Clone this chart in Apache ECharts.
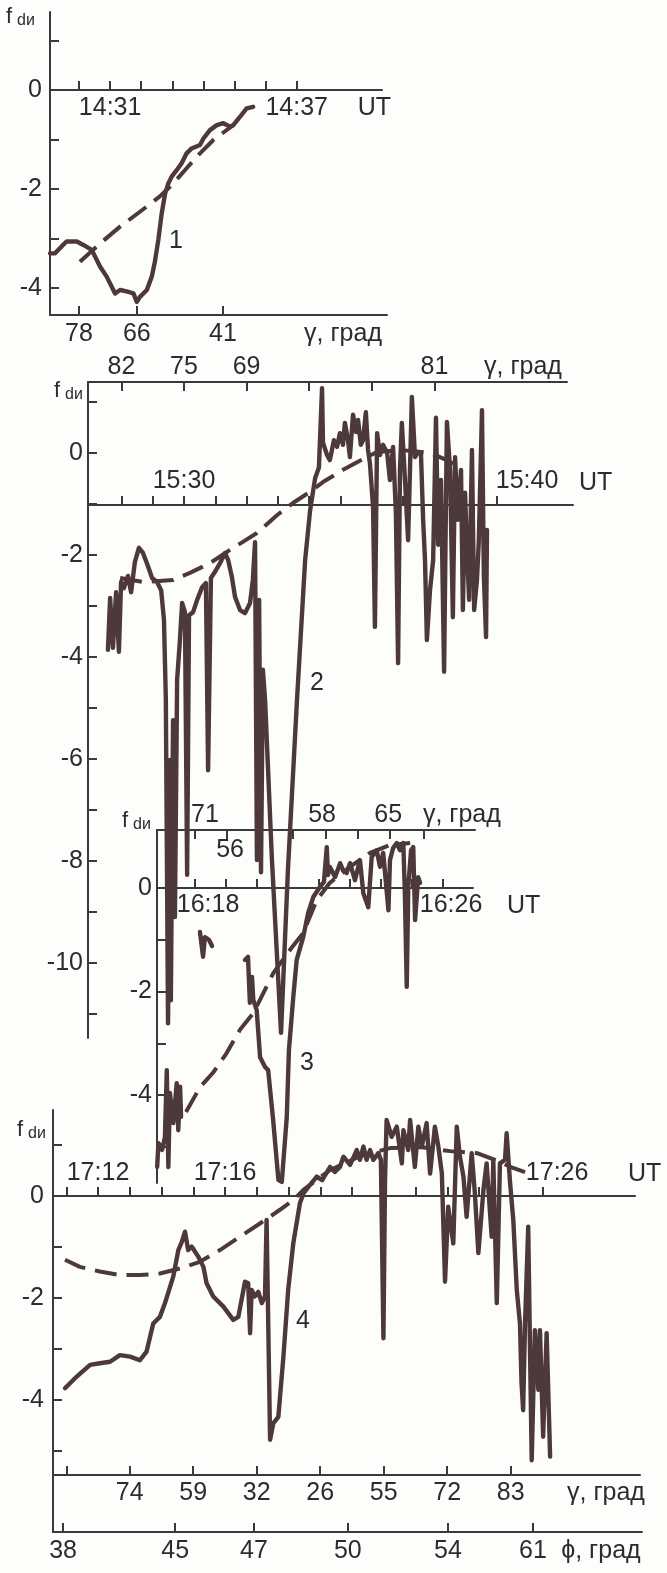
<!DOCTYPE html>
<html><head><meta charset="utf-8">
<script src="https://cdn.jsdelivr.net/npm/echarts@6/dist/echarts.min.js"></script>
<style>html,body{margin:0;padding:0;background:#fdfdfc}#c{width:667px;height:1573px}</style>
</head><body><div id="c"></div>
<script>
// ================= DATA (x = minutes after panel origin time, y = f_dи) =================
// Panel 1 : origin 14:30 UT
const p1Solid = [[-0.93,-3.30],[-0.77,-3.30],[-0.56,-3.16],[-0.40,-3.06],[-0.07,-3.06],[0.14,-3.13],[0.41,-3.23],[0.68,-3.57],[0.89,-3.77],[1.16,-4.11],[1.32,-4.04],[1.53,-4.07],[1.75,-4.11],[1.86,-4.28],[1.96,-4.18],[2.18,-4.04],[2.34,-3.77],[2.44,-3.47],[2.55,-3.03],[2.66,-2.49],[2.77,-2.09],[2.87,-1.89],[2.98,-1.75],[3.14,-1.62],[3.30,-1.48],[3.46,-1.28],[3.62,-1.18],[3.89,-1.11],[4.00,-0.98],[4.21,-0.81],[4.43,-0.71],[4.64,-0.67],[4.86,-0.74],[4.96,-0.71],[5.18,-0.54],[5.39,-0.37],[5.60,-0.34]];
const p1Dashed = [[0.03,-3.47],[0.68,-3.10],[1.32,-2.76],[1.96,-2.46],[2.60,-2.15],[3.03,-1.89],[3.46,-1.58],[3.89,-1.28],[4.32,-1.01],[4.96,-0.71]];
const p1UtTicks = [0,1,2,3,4,5,6,7];
const p1UtLabels = [[1,'14:31'],[7,'14:37'],[9.5,'UT']];
const p1GammaTicks = [0,1.86,4.63];
const p1GammaLabels = [[0,'78'],[1.86,'66'],[4.63,'41'],[8.49,'γ, град']];
const p1YTicks = [1,0,-1,-2,-3,-4];
const p1YLabels = [0,-2,-4];

// Panel 2 : origin 15:30 UT
const p2Solid = [[-2.43,-3.86],[-2.36,-2.84],[-2.27,-3.82],[-2.17,-2.73],[-2.08,-3.90],[-2.01,-2.53],[-1.92,-2.65],[-1.79,-2.41],[-1.69,-2.73],[-1.57,-2.14],[-1.44,-1.86],[-1.31,-1.96],[-1.15,-2.22],[-1.02,-2.45],[-0.86,-2.53],[-0.73,-2.69],[-0.64,-3.27],[-0.58,-4.84],[-0.51,-11.18],[-0.45,-6.02],[-0.42,-10.73],[-0.35,-5.24],[-0.29,-9.10],[-0.22,-4.45],[-0.13,-3.67],[-0.06,-2.94],[0.03,-3.12],[0.10,-8.27],[0.16,-3.18],[0.29,-3.12],[0.42,-2.88],[0.58,-2.63],[0.70,-2.55],[0.77,-6.22],[0.86,-2.45],[0.99,-2.33],[1.15,-2.16],[1.31,-1.96],[1.41,-2.10],[1.53,-2.43],[1.63,-2.82],[1.79,-3.08],[1.95,-3.14],[2.11,-2.94],[2.20,-2.49],[2.27,-1.75],[2.33,-7.98],[2.40,-2.88],[2.46,-8.22],[2.52,-4.25],[2.59,-4.84],[2.81,-7.98],[3.10,-11.37],[3.32,-8.18],[3.61,-4.84],[3.87,-2.10],[4.03,-1.12],[4.19,-0.49],[4.31,-0.29],[4.41,1.27],[4.44,0.20],[4.57,-0.04],[4.66,-0.14],[4.79,0.25],[4.89,0.12],[4.98,0.39],[5.08,0.16],[5.14,0.59],[5.24,0.25],[5.30,-0.08],[5.40,0.75],[5.50,0.41],[5.56,0.65],[5.65,0.16],[5.72,0.25],[5.81,0.80],[5.88,0.06],[5.94,-0.20],[6.04,-1.06],[6.10,-3.41],[6.17,0.39],[6.26,-0.04],[6.36,0.16],[6.49,0],[6.58,-0.53],[6.68,0.12],[6.77,-1.18],[6.84,-4.12],[6.90,-0.33],[6.96,0.59],[7.06,-0.53],[7.16,-1.71],[7.22,-0.33],[7.28,1.10],[7.38,-0.08],[7.48,0.02],[7.57,0],[7.64,-1.31],[7.70,-2.10],[7.76,-3.67],[7.86,-2.69],[7.96,-2.10],[8.05,0.69],[8.12,-1.80],[8.21,-0.53],[8.31,-4.29],[8.37,-0.92],[8.40,0.61],[8.50,-0.33],[8.59,-3.22],[8.66,-0.08],[8.75,-1.31],[8.85,-0.33],[8.91,-3.08],[8.98,-0.78],[9.04,-1.90],[9.11,-2.88],[9.20,0.06],[9.27,-3.08],[9.36,-2.49],[9.42,-1.71],[9.52,0.84],[9.58,-2.41],[9.65,-3.61],[9.68,-1.51]];
const p2Dashed = [[-2.04,-2.45],[-1.31,-2.53],[-0.35,-2.49],[0.19,-2.35],[0.83,-2.16],[1.47,-1.90],[2.33,-1.57],[2.97,-1.22],[3.48,-0.98],[4.03,-0.76],[4.44,-0.57],[5.08,-0.33],[5.53,-0.18],[6.17,0.02],[6.90,0.06],[7.86,0],[8.40,-0.14],[8.82,-0.29]];
const p2UtTicks = [-2,-1,0,1,2,3,4,5,6,7,8,9,10];
const p2UtLabels = [[0,'15:30'],[10.96,'15:40']];
const p2GammaTicks = [-2,0,2,4,6,8];
const p2GammaLabels = [[-2,'82'],[0,'75'],[2,'69'],[8,'81'],[10.83,'γ, град']];
const p2YTicks = [1,0,-1,-2,-3,-4,-5,-6,-7,-8,-9,-10,-11];
const p2YLabels = [0,-2,-4,-6,-8,-10];

// Panel 3 : origin 16:18 UT
const p3SolidA = [[-1.22,-5.39],[-1.18,-4.93],[-1.06,-5.06],[-0.97,-4.81],[-0.91,-3.52],[-0.86,-5.39],[-0.81,-3.96],[-0.70,-4.54],[-0.59,-3.77],[-0.54,-4.68],[-0.48,-3.84],[-0.45,-4.42]];
const p3SolidB = [[0.16,-0.85],[0.26,-1.33],[0.32,-0.95],[0.45,-1.00],[0.55,-1.12]];
const p3SolidC = [[1.61,-1.39],[1.71,-1.33],[1.77,-2.22],[1.84,-1.72],[1.88,-2.16],[1.99,-2.36],[2.10,-3.27],[2.26,-3.46],[2.36,-3.52],[2.52,-4.48],[2.69,-5.64],[2.80,-5.68],[2.96,-4.43],[3.03,-3.13],[3.17,-2.11],[3.28,-1.39],[3.49,-0.95],[3.65,-0.48],[3.82,-0.17],[4.03,0.02],[4.16,0.12],[4.25,0.79],[4.29,0.25],[4.35,0.41],[4.52,0.21],[4.68,0.48],[4.77,0.35],[4.89,0.29],[5.00,0.48],[5.16,0.15],[5.32,0.54],[5.43,-0.10],[5.59,-0.37],[5.70,0.60],[5.86,0.73],[5.97,0.41],[6.07,0.68],[6.24,-0.43],[6.29,0.54],[6.39,0.77],[6.51,0.87],[6.61,0.73],[6.72,0.87],[6.77,-0.10],[6.83,-1.91],[6.88,0.02],[6.97,0.73],[7.04,0.79],[7.10,-0.62],[7.20,0.21],[7.26,0.10]];
const p3Dashed = [[-0.29,-4.33],[0.16,-3.85],[0.58,-3.57],[1.02,-3.19],[1.45,-2.74],[1.88,-2.42],[2.53,-1.64],[3.06,-1.20],[3.49,-0.87],[3.93,-0.23],[4.35,0.10],[5.00,0.41],[5.65,0.68],[6.29,0.83],[6.94,0.87]];
const p3UtTicks = [0,1,2,3,4,5,6,7,8];
const p3UtLabels = [[0.42,'16:18'],[8.26,'16:26']];
const p3GammaTicks = [0,1.03,2.10,3.16,4.23,5.26,6.29,7.39];
const p3GammaLabels = [[0.32,'71'],[4.1,'58'],[6.23,'65'],[8.61,'γ, град']];
const p3GammaInnerLabels = [[1.13,'56']];
const p3YTicks = [0,-1,-2,-3,-4,-5];
const p3YLabels = [0,-2,-4];

// Panel 4 : origin 17:12 UT
const p4Solid = [[-1.04,-3.77],[-0.67,-3.54],[-0.25,-3.31],[0.06,-3.28],[0.38,-3.25],[0.69,-3.12],[1.01,-3.15],[1.32,-3.22],[1.53,-3.05],[1.74,-2.50],[1.95,-2.37],[2.11,-2.10],[2.37,-1.58],[2.53,-1.06],[2.64,-0.90],[2.69,-0.93],[2.74,-0.70],[2.84,-1.06],[2.95,-0.99],[3.16,-1.19],[3.32,-1.39],[3.42,-1.71],[3.63,-1.97],[3.95,-2.17],[4.26,-2.43],[4.42,-2.37],[4.63,-1.68],[4.73,-1.71],[4.79,-2.69],[4.84,-1.84],[4.94,-1.97],[5.05,-1.88],[5.16,-2.10],[5.26,-1.97],[5.31,-0.47],[5.35,-2.04],[5.42,-4.78],[5.52,-4.46],[5.68,-4.33],[5.84,-3.15],[5.99,-1.84],[6.15,-0.93],[6.36,-0.14],[6.47,0.05],[6.68,0.22],[6.89,0.38],[7.06,0.31],[7.31,0.57],[7.46,0.47],[7.62,0.57],[7.73,0.77],[7.94,0.61],[8.15,0.90],[8.25,0.71],[8.36,0.97],[8.46,0.71],[8.57,0.90],[8.67,0.71],[8.83,0.84],[8.91,0.71],[8.99,-2.79],[9.04,0.31],[9.09,1.49],[9.25,1.16],[9.41,1.36],[9.57,0.64],[9.62,1.29],[9.77,0.90],[9.83,1.49],[9.98,0.57],[10.09,1.36],[10.20,0.97],[10.35,1.43],[10.46,0.44],[10.61,1.36],[10.72,0.97],[10.83,0.44],[10.93,-1.68],[11.03,-0.21],[11.19,-0.93],[11.30,1.36],[11.40,0.77],[11.51,0.38],[11.61,-0.41],[11.77,0.84],[11.87,0.05],[11.98,-1.12],[12.14,0.12],[12.24,0.64],[12.40,-0.80],[12.45,0.71],[12.56,-2.10],[12.66,0.64],[12.82,0.71],[12.87,1.23],[12.98,0.25],[13.08,-0.47],[13.19,-1.84],[13.29,-2.50],[13.34,-3.67],[13.39,-4.20],[13.45,-2.50],[13.55,-0.60],[13.61,-3.15],[13.66,-5.18],[13.76,-2.63],[13.87,-3.80],[13.92,-2.63],[14.02,-4.72],[14.13,-2.69],[14.24,-5.11]];
const p4Dashed = [[-1.04,-1.25],[-0.57,-1.39],[0.06,-1.48],[0.69,-1.55],[1.32,-1.55],[1.95,-1.52],[2.58,-1.42],[3.21,-1.29],[3.84,-1.06],[4.47,-0.80],[5.10,-0.54],[5.73,-0.27],[6.15,-0.08],[6.47,0.12],[7.31,0.51],[8.25,0.78],[9.20,0.94],[10.14,0.96],[11.09,0.88],[11.94,0.84],[12.66,0.67],[13.07,0.55],[13.45,0.47]];
const p4UtTicks = [-1,0,1,2,3,4,5,6,7,8,9,10,11,12,13,14];
const p4UtLabels = [[0,'17:12'],[4,'17:16'],[14.46,'17:26']];
const p4GammaTicks = [-1,1,3,5,7,9,11,13];
const p4GammaLabels = [[1,'74'],[3,'59'],[5,'32'],[7,'26'],[9,'55'],[11,'72'],[13,'83'],[16.0,'γ, град']];
const p4PhiTicks = [-1.1,2.43,4.91,7.87,11.02,13.7];
const p4PhiLabels = [[-1.1,'38'],[2.43,'45'],[4.91,'47'],[7.87,'50'],[11.02,'54'],[13.7,'61'],[15.84,'ϕ, град']];
const p4YTicks = [1,0,-1,-2,-3,-4,-5];
const p4YLabels = [0,-2,-4];

// ================= LAYOUT / STYLE =================
const FONT = '"Liberation Sans", Arial, sans-serif';
const TXT = '#2c2c2c', AX = '#3a3a3a', INK = '#4d383b';
const FS = 25;
// pixel anchor of (x=0, y=0) and scale per unit for each panel
const S1 = {x0:79, ppm:31.1, y0:90, ppu:49.5};
const S2 = {x0:184, ppm:31.3, y0:453, ppu:51};
const S3 = {x0:195, ppm:31, y0:888, ppu:51.75};
const S4 = {x0:98, ppm:31.75, y0:1196, ppu:51};

const grids=[], xAxis=[], yAxis=[], series=[], graphic=[];
function lab(list, v){ for (const d of list) if (Math.abs(d[0]-v) < 1e-6) return d[1]; return ''; }
function txt(){ return {color:TXT, fontFamily:FONT, fontSize:FS}; }
function makeX(gi, min, max, a){
  const o = {type:'value', gridIndex:gi, min, max, position:a.pos||'bottom', show:!a.hidden,
    axisLine:{show:a.line!==false, onZero:false, lineStyle:{color:AX, width:2}},
    axisTick:{show:!!a.ticks, inside:true, length:9, lineStyle:{color:AX, width:2}},
    axisLabel:{show:!!a.labels, inside:!!a.inside, margin:a.margin==null?6:a.margin, ...txt(),
      formatter:v=>lab(a.labels||[], v)},
    splitLine:{show:false}};
  if (a.ticks) o.axisTick.customValues = a.ticks;
  if (a.labels) o.axisLabel.customValues = a.labels.map(d=>d[0]);
  if (a.name){ o.name=a.name; o.nameLocation='end'; o.nameGap=a.nameGap; o.nameTextStyle={...txt(), verticalAlign:a.nameVA, padding:a.namePad}; }
  return o;
}
function makeY(gi, min, max, a){
  const o = {type:'value', gridIndex:gi, min, max, position:'left', show:!a.hidden,
    axisLine:{show:a.line!==false, onZero:false, lineStyle:{color:AX, width:2}},
    axisTick:{show:!!a.ticks, inside:true, length:9, lineStyle:{color:AX, width:2}},
    axisLabel:{show:!!a.labels, margin:a.margin==null?6:a.margin, ...txt(), formatter:v=>String(Math.round(v))},
    splitLine:{show:false}};
  if (a.ticks) o.axisTick.customValues = a.ticks;
  if (a.labels) o.axisLabel.customValues = a.labels;
  return o;
}
function frame(S, l, r, t, b, xs, y){
  const gi = grids.length;
  grids.push({left:l, top:t, width:r-l, height:b-t});
  const xmin=(l-S.x0)/S.ppm, xmax=(r-S.x0)/S.ppm, ymax=(S.y0-t)/S.ppu, ymin=(S.y0-b)/S.ppu;
  const xi = xAxis.length;
  (xs.length ? xs : [{hidden:true}]).forEach(a => xAxis.push(makeX(gi, xmin, xmax, a)));
  const yi = yAxis.length;
  yAxis.push(makeY(gi, ymin, ymax, y || {hidden:true}));
  return {xi, yi};
}
function line(f, data, dashed){
  series.push({type:'line', xAxisIndex:f.xi, yAxisIndex:f.yi, data, symbol:'none', showSymbol:false,
    clip:false, animation:false, z:3,
    lineStyle:{color:INK, width:dashed?4:4.4, type:dashed?[22,10]:'solid', cap:dashed?'butt':'round', join:'round'}});
}
function t(x, y, s, size, align){
  graphic.push({type:'text', x, y, z:10, style:{text:s, fill:TXT, fontFamily:FONT, fontSize:size||FS, align:align||'left', verticalAlign:'top'}});
}

// ---- panel 1
const f1 = frame(S1, 50, 387, 12, 315,
  [{pos:'bottom', ticks:p1GammaTicks, labels:p1GammaLabels, margin:7}],
  {ticks:p1YTicks, labels:p1YLabels, margin:8});
frame(S1, 50, 382, 12, 90, [{pos:'bottom', ticks:p1UtTicks, labels:p1UtLabels, margin:6}], null);
line(f1, p1Dashed, true); line(f1, p1Solid, false);

// ---- panel 2
const f2 = frame(S2, 88, 567, 382, 1038,
  [{pos:'top', ticks:p2GammaTicks, labels:p2GammaLabels, margin:2}],
  {ticks:p2YTicks, labels:p2YLabels, margin:5});
frame(S2, 88, 573, 382, 505, [{pos:'bottom', ticks:p2UtTicks, labels:p2UtLabels, inside:true, margin:11,
  name:'UT', nameGap:6, nameVA:'bottom', namePad:[0,0,9,0]}], null);
line(f2, p2Dashed, true); line(f2, p2Solid, false);

// ---- panel 3
const f3 = frame(S3, 157, 475, 830, 1183,
  [{pos:'top', ticks:p3GammaTicks, labels:p3GammaLabels, margin:2},
   {pos:'top', line:false, labels:p3GammaInnerLabels, inside:true, margin:8}],
  {ticks:p3YTicks, labels:p3YLabels, margin:5});
frame(S3, 157, 473, 830, 888, [{pos:'bottom', ticks:p3UtTicks, labels:p3UtLabels, margin:5,
  name:'UT', nameGap:34, nameVA:'top', namePad:[6,0,0,0]}], null);
line(f3, p3Dashed, true); line(f3, p3SolidA); line(f3, p3SolidB); line(f3, p3SolidC);

// ---- panel 4
const f4 = frame(S4, 53, 640, 1110, 1475,
  [{pos:'bottom', ticks:p4GammaTicks, labels:p4GammaLabels, margin:6}],
  {ticks:p4YTicks, labels:p4YLabels, margin:9});
frame(S4, 53, 635, 1110, 1196, [{pos:'bottom', ticks:p4UtTicks, labels:p4UtLabels, inside:true, margin:10,
  name:'UT', nameGap:-7, nameVA:'bottom', namePad:[0,0,9,0]}], null);
frame(S4, 53, 642, 1475, 1532, [{pos:'bottom', ticks:p4PhiTicks, labels:p4PhiLabels, margin:7}], {ticks:null, labels:null});
line(f4, p4Dashed, true); line(f4, p4Solid, false);

// ---- free texts: axis titles f_dи and curve numbers
[[6,6],[54,380],[122,810],[17,1119]].forEach(p => { t(p[0], p[1], 'f', 22); t(p[0]+11, p[1]+7, 'dи', 16); });
t(169, 229, '1'); t(310, 671, '2'); t(300, 1051, '3'); t(296, 1309, '4');

const chart = echarts.init(document.getElementById('c'), null, {renderer:'canvas'});
chart.setOption({backgroundColor:'#fdfdfc', animation:false, grid:grids, xAxis, yAxis, series, graphic});
</script></body></html>
